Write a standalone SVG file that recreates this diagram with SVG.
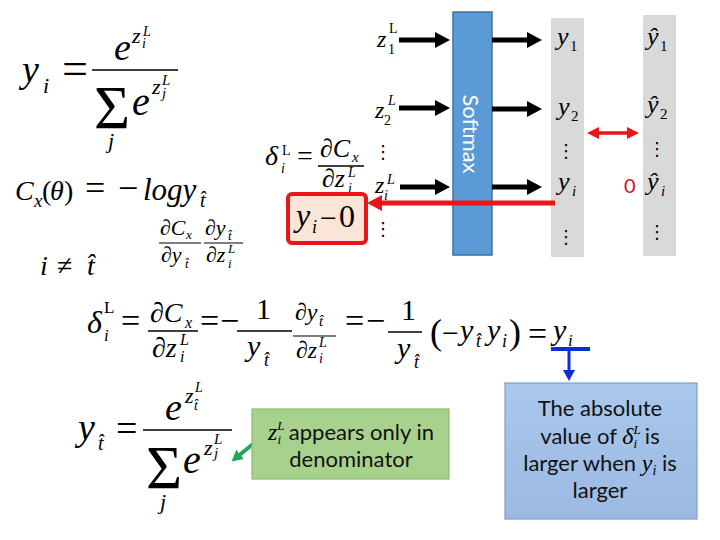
<svg xmlns="http://www.w3.org/2000/svg" width="720" height="540" viewBox="0 0 720 540">
<style>
.m{font-family:"Liberation Serif","Times New Roman",serif;font-style:italic;fill:#000}
.r{font-family:"Liberation Serif","Times New Roman",serif;font-style:normal;fill:#000}
.s{font-family:Lato,"Liberation Sans",sans-serif;fill:#111}
.d{font-family:"DejaVu Sans",sans-serif;font-size:18px;fill:#000;text-anchor:middle}
.col{fill:#D9D9D9}
</style>
<defs>
<marker id="hb" markerUnits="userSpaceOnUse" markerWidth="16" markerHeight="16" refX="5" refY="8" orient="auto"><path d="M0,0 L15,8 L0,16 z" fill="#000"/></marker>
<marker id="hr" markerUnits="userSpaceOnUse" markerWidth="16" markerHeight="16" refX="5" refY="8" orient="auto"><path d="M0,0 L15,8 L0,16 z" fill="#E8161B"/></marker>
<marker id="hr2" markerUnits="userSpaceOnUse" markerWidth="12" markerHeight="12" refX="4" refY="6" orient="auto-start-reverse"><path d="M0,0 L12,6 L0,12 z" fill="#E8161B"/></marker>
<marker id="hbl" markerUnits="userSpaceOnUse" markerWidth="12" markerHeight="12" refX="4" refY="6" orient="auto"><path d="M0,0 L11,6 L0,12 z" fill="#0B2FD1"/></marker>
<marker id="hg" markerUnits="userSpaceOnUse" markerWidth="12" markerHeight="12" refX="4" refY="6" orient="auto"><path d="M0,0 L11,6 L0,12 z" fill="#21A65A"/></marker>
<linearGradient id="bg" x1="0" y1="0" x2="0" y2="1"><stop offset="0" stop-color="#AAC8EC"/><stop offset="1" stop-color="#9BB9E2"/></linearGradient>
</defs>

<!-- columns -->
<g id="col-y"><rect class="col" x="551" y="18" width="33" height="239"/>
<text class="m" x="557" y="45" font-size="26">y</text><text class="r" x="570" y="51" font-size="15">1</text>
<text class="m" x="558" y="115" font-size="26">y</text><text class="r" x="571" y="121" font-size="15">2</text>
<text class="d" x="566" y="157">⋮</text>
<text class="m" x="558" y="190" font-size="26">y</text><text class="m" x="572" y="196" font-size="15">i</text>
<text class="d" x="566" y="243">⋮</text>
</g>
<g id="col-yhat"><rect class="col" x="643" y="15" width="33" height="241"/>
<text class="m" x="647" y="45" font-size="26">ŷ</text><text class="r" x="660" y="51" font-size="15">1</text>
<text class="m" x="647" y="113" font-size="26">ŷ</text><text class="r" x="660" y="119" font-size="15">2</text>
<text class="d" x="657" y="155">⋮</text>
<text class="m" x="647" y="190" font-size="26">ŷ</text><text class="m" x="661" y="196" font-size="15">i</text>
<text class="d" x="657" y="238">⋮</text>
</g>
<text class="s" x="624" y="193" font-size="20" style="fill:#D01414">0</text>

<!-- softmax -->
<g id="softmax"><rect x="453" y="12" width="39" height="243" fill="#5B9BD5" stroke="#41719C" stroke-width="1.5"/>
<text class="s" transform="translate(471,134) rotate(90)" text-anchor="middle" dominant-baseline="central" font-size="22" style="fill:#fff">Softmax</text>
</g>

<!-- inputs -->
<g id="inputs">
<text class="m" x="377" y="47" font-size="24">z</text><text class="r" x="389" y="33" font-size="14">L</text><text class="r" x="388" y="54" font-size="14">1</text>
<text class="m" x="375" y="118" font-size="24">z</text><text class="m" x="388" y="105" font-size="14">L</text><text class="r" x="384" y="125" font-size="14">2</text>
<text class="m" x="375" y="193" font-size="24">z</text><text class="m" x="387" y="184" font-size="14">L</text><text class="m" x="384" y="200" font-size="14">i</text>
<text class="d" x="383" y="158">⋮</text>
<text class="d" x="383" y="235">⋮</text>
</g>

<!-- delta definition -->
<g id="eq-delta">
<text class="m" x="265" y="165" font-size="28">δ</text><text class="r" x="282" y="155" font-size="14">L</text><text class="m" x="281" y="173" font-size="14">i</text>
<text class="r" x="297" y="165" font-size="28">=</text>
<text class="m" x="320" y="157" font-size="26">∂C</text><text class="m" x="352" y="162" font-size="15">x</text>
<line x1="318" y1="166" x2="364" y2="166" stroke="#000" stroke-width="1.3"/>
<text class="m" x="322" y="187" font-size="26">∂z</text><text class="m" x="348" y="177" font-size="14">L</text><text class="m" x="348" y="193" font-size="14">i</text>
</g>

<!-- red box -->
<g id="err-box"><rect x="288" y="194" width="78" height="49" rx="4" fill="#FBE5D6" stroke="#E8161B" stroke-width="4"/>
<text class="m" x="296" y="226" font-size="32">y</text><text class="m" x="312" y="233" font-size="18">i</text>
<text class="r" x="320" y="228" font-size="30">−</text><text class="r" x="339" y="227" font-size="32">0</text>
</g>

<!-- connectors -->
<g id="connectors" fill="none">
<line x1="399" y1="40" x2="440" y2="40" stroke="#000" stroke-width="5" marker-end="url(#hb)"/>
<line x1="399" y1="108" x2="440" y2="108" stroke="#000" stroke-width="5" marker-end="url(#hb)"/>
<line x1="400" y1="187" x2="440" y2="187" stroke="#000" stroke-width="5" marker-end="url(#hb)"/>
<line x1="492" y1="40" x2="532" y2="40" stroke="#000" stroke-width="5" marker-end="url(#hb)"/>
<line x1="492" y1="109" x2="532" y2="109" stroke="#000" stroke-width="5" marker-end="url(#hb)"/>
<line x1="492" y1="187" x2="532" y2="187" stroke="#000" stroke-width="5" marker-end="url(#hb)"/>
<line x1="555" y1="203" x2="377" y2="203" stroke="#E8161B" stroke-width="5" marker-end="url(#hr)"/>
<line x1="595" y1="133" x2="631" y2="133" stroke="#E8161B" stroke-width="3.5" marker-start="url(#hr2)" marker-end="url(#hr2)"/>
<line x1="551" y1="349" x2="590" y2="349" stroke="#0B2FD1" stroke-width="4"/>
<line x1="569" y1="351" x2="569" y2="374" stroke="#0B2FD1" stroke-width="3" marker-end="url(#hbl)"/>
<line x1="253" y1="444" x2="237" y2="457" stroke="#21A65A" stroke-width="4" marker-end="url(#hg)"/>
</g>

<!-- top-left softmax formula -->
<g id="eq-softmax">
<text class="m" x="22" y="82" font-size="38">y</text><text class="m" x="43" y="93" font-size="22">i</text>
<text class="r" x="62" y="84" font-size="46">=</text>
<line x1="92" y1="70" x2="178" y2="70" stroke="#000" stroke-width="1.6"/>
<text class="m" x="114" y="60" font-size="38">e</text>
<text class="m" x="132" y="43" font-size="22">z</text><text class="m" x="143" y="36" font-size="14">L</text><text class="m" x="142" y="48" font-size="14">i</text>
<text class="r" x="94" y="128" font-size="62">Σ</text>
<text class="m" x="132" y="115" font-size="40">e</text>
<text class="m" x="152" y="94" font-size="22">z</text><text class="m" x="162" y="85" font-size="15">L</text><text class="m" x="162" y="98" font-size="15">j</text>
<text class="m" x="108" y="148" font-size="22">j</text>
</g>

<g id="eq-cost">
<text class="m" x="15" y="200" font-size="28">C</text><text class="m" x="34" y="207" font-size="19">x</text>
<text class="r" x="42" y="200" font-size="28">(</text><text class="m" x="50" y="200" font-size="28">θ</text><text class="r" x="64" y="200" font-size="28">)</text>
<text class="r" x="85" y="200" font-size="36">=</text>
<text class="r" x="118" y="200" font-size="36">−</text>
<text class="m" x="143" y="200" font-size="31">logy</text><text class="m" x="200" y="207" font-size="20">t̂</text>
</g>

<g id="eq-chain">
<text class="m" x="160" y="235" font-size="22">∂C</text><text class="m" x="186" y="239" font-size="13">x</text>
<line x1="159" y1="243" x2="201" y2="243" stroke="#000" stroke-width="1.1"/>
<text class="m" x="161" y="262" font-size="22">∂y</text><text class="m" x="185" y="268" font-size="13">t̂</text>
<text class="m" x="205" y="235" font-size="22">∂y</text><text class="m" x="228" y="240" font-size="13">t̂</text>
<line x1="204" y1="243" x2="243" y2="243" stroke="#000" stroke-width="1.1"/>
<text class="m" x="206" y="262" font-size="22">∂z</text><text class="m" x="228" y="253" font-size="13">L</text><text class="m" x="228" y="268" font-size="13">i</text>
</g>

<g id="eq-neq">
<text class="m" x="40" y="275" font-size="28">i</text>
<text class="r" x="57" y="275" font-size="28">≠</text>
<text class="m" x="87" y="275" font-size="28">t̂</text>
</g>

<!-- middle formula -->
<g id="eq-main">
<text class="m" x="87" y="333" font-size="32">δ</text><text class="r" x="104" y="313" font-size="17">L</text><text class="m" x="104" y="341" font-size="17">i</text>
<text class="r" x="121" y="332" font-size="34">=</text>
<text class="m" x="150" y="322" font-size="28">∂C</text><text class="m" x="185" y="328" font-size="16">x</text>
<line x1="148" y1="331" x2="198" y2="331" stroke="#000" stroke-width="1.4"/>
<text class="m" x="152" y="357" font-size="28">∂z</text><text class="m" x="180" y="345" font-size="16">L</text><text class="m" x="180" y="362" font-size="16">i</text>
<text class="r" x="200" y="332" font-size="34">=</text><text class="r" x="220" y="332" font-size="34">−</text>
<text class="r" x="256" y="319" font-size="30">1</text>
<line x1="237" y1="331" x2="292" y2="331" stroke="#000" stroke-width="1.4"/>
<text class="m" x="247" y="356" font-size="30">y</text><text class="m" x="264" y="366" font-size="18">t̂</text>
<text class="m" x="295" y="320" font-size="24">∂y</text><text class="m" x="319" y="326" font-size="15">t̂</text>
<line x1="293" y1="336" x2="336" y2="336" stroke="#000" stroke-width="1.2"/>
<text class="m" x="296" y="358" font-size="24">∂z</text><text class="m" x="319" y="347" font-size="14">L</text><text class="m" x="319" y="363" font-size="14">i</text>
<text class="r" x="345" y="332" font-size="34">=</text><text class="r" x="366" y="332" font-size="34">−</text>
<text class="r" x="401" y="320" font-size="30">1</text>
<line x1="388" y1="332" x2="422" y2="332" stroke="#000" stroke-width="1.4"/>
<text class="m" x="397" y="358" font-size="30">y</text><text class="m" x="414" y="368" font-size="18">t̂</text>
<text class="r" x="430" y="344" font-size="36">(</text>
<text class="r" x="442" y="343" font-size="30">−</text>
<text class="m" x="460" y="340" font-size="30">y</text><text class="m" x="476" y="347" font-size="18">t̂</text>
<text class="m" x="487" y="340" font-size="30">y</text><text class="m" x="502" y="347" font-size="18">i</text>
<text class="r" x="509" y="344" font-size="36">)</text>
<text class="r" x="528" y="345" font-size="34">=</text>
<text class="m" x="553" y="340" font-size="30">y</text><text class="m" x="568" y="346" font-size="17">i</text>
</g>

<!-- bottom formula -->
<g id="eq-target">
<text class="m" x="78" y="440" font-size="38">y</text><text class="m" x="98" y="450" font-size="20">t̂</text>
<text class="r" x="116" y="441" font-size="38">=</text>
<line x1="143" y1="430" x2="232" y2="430" stroke="#000" stroke-width="1.6"/>
<text class="m" x="165" y="420" font-size="38">e</text>
<text class="m" x="185" y="403" font-size="22">z</text><text class="m" x="195" y="392" font-size="14">L</text><text class="m" x="194" y="410" font-size="14">t̂</text>
<text class="r" x="146" y="488" font-size="62">Σ</text>
<text class="m" x="183" y="473" font-size="40">e</text>
<text class="m" x="204" y="455" font-size="22">z</text><text class="m" x="214" y="444" font-size="15">L</text><text class="m" x="214" y="458" font-size="15">j</text>
<text class="m" x="160" y="509" font-size="22">j</text>
</g>

<!-- green note -->
<g id="note-green"><rect x="252" y="409" width="197" height="70" fill="#A9D18E" stroke="#8DB873" stroke-width="1.2"/>
<text class="s" x="351" y="440" font-size="22" text-anchor="middle" xml:space="preserve"><tspan class="m" font-size="24">z</tspan><tspan class="m" font-size="13" dy="-10">L</tspan><tspan class="m" font-size="13" dx="-7" dy="14">i</tspan><tspan dy="-4" dx="2"> appears only in</tspan></text>
<text class="s" x="351" y="467" font-size="22" text-anchor="middle">denominator</text>
</g>

<!-- blue note -->
<g id="note-blue"><rect x="505" y="383" width="192" height="136" fill="url(#bg)" stroke="#7F9FCC" stroke-width="1.2"/>
<text class="s" x="600" y="416" font-size="22" text-anchor="middle">The absolute</text>
<text class="s" x="600" y="444" font-size="22" text-anchor="middle" xml:space="preserve">value of <tspan class="m" font-size="24">δ</tspan><tspan class="m" font-size="13" dy="-10">L</tspan><tspan class="m" font-size="13" dx="-7" dy="14">i</tspan><tspan dy="-4" dx="2"> is</tspan></text>
<text class="s" x="600" y="471" font-size="22" text-anchor="middle" xml:space="preserve">larger when <tspan class="m" font-size="24">y</tspan><tspan class="m" font-size="14" dy="4">i</tspan><tspan dy="-4"> is</tspan></text>
<text class="s" x="600" y="498" font-size="22" text-anchor="middle">larger</text>
</g>
</svg>
